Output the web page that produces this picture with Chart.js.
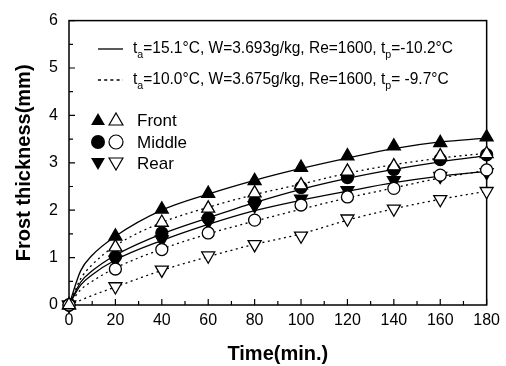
<!DOCTYPE html>
<html><head><meta charset="utf-8">
<script src="https://cdn.jsdelivr.net/npm/chart.js@4/dist/chart.umd.min.js"></script>
<style>html,body{margin:0;padding:0;background:#fff}#wrap{width:506px;height:366px;position:relative}</style>
</head><body><div id="wrap"><canvas id="c"></canvas></div>
<script>
// measured points (minutes, mm)
const times = [0, 20, 40, 60, 80, 100, 120, 140, 160, 180];
const frontCase1  = [0, 1.45, 2.02, 2.35, 2.62, 2.90, 3.14, 3.35, 3.42, 3.54];
const frontCase2  = [0, 1.22, 1.74, 2.04, 2.36, 2.53, 2.82, 2.93, 3.14, 3.19];
const middleCase1 = [0, 1.02, 1.52, 1.83, 2.18, 2.48, 2.69, 2.86, 3.07, 3.17];
const middleCase2 = [0, 0.76, 1.17, 1.52, 1.79, 2.11, 2.28, 2.46, 2.74, 2.85];
const rearCase1   = [0, 0.95, 1.38, 1.76, 2.10, 2.24, 2.42, 2.63, 2.72, 2.80];
const rearCase2   = [0, 0.39, 0.74, 1.04, 1.28, 1.46, 1.82, 2.03, 2.23, 2.40];
// fitted curves
const fitTimes    = [0, 5, 10, 20, 40, 60, 80, 100, 120, 140, 160, 180];
const fitFront1   = [0, 0.72, 1.05, 1.45, 2.00, 2.34, 2.63, 2.88, 3.10, 3.30, 3.44, 3.52];
const fitFront2   = [0, 0.55, 0.85, 1.25, 1.74, 2.06, 2.33, 2.55, 2.78, 2.96, 3.10, 3.20];
const fitMiddle1  = [0, 0.48, 0.72, 1.05, 1.50, 1.84, 2.16, 2.44, 2.67, 2.86, 3.02, 3.15];
const fitMiddle2  = [0, 0.32, 0.50, 0.78, 1.18, 1.50, 1.77, 2.02, 2.26, 2.47, 2.68, 2.84];
const fitRear1    = [0, 0.42, 0.64, 0.95, 1.36, 1.70, 1.99, 2.21, 2.40, 2.58, 2.72, 2.82];
const fitRear2    = [0, 0.10, 0.20, 0.38, 0.73, 1.02, 1.28, 1.50, 1.79, 2.03, 2.23, 2.40];
// axis / labels
const xTitle = 'Time(min.)';
const yTitle = 'Frost thickness(mm)';
const legendCase1 = [['t',0],['a',1],['=15.1\u00B0C, W=3.693g/kg, Re=1600, t',0],['p',1],['=-10.2\u00B0C',0]];
const legendCase2 = [['t',0],['a',1],['=10.0\u00B0C, W=3.675g/kg, Re=1600, t',0],['p',1],['= -9.7\u00B0C',0]];
const legendLocations = ['Front', 'Middle', 'Rear'];

const pts = (xs, ys) => xs.map((x, i) => ({x, y: ys[i]}));
const FONT = "'Liberation Sans', Arial, sans-serif";

function marker(label, ys, style, rot, filled) {
  return {label, data: pts(times, ys), showLine: false, clip: false,
    pointStyle: style, pointRotation: rot,
    pointRadius: style === 'circle' ? 6 : 7.5, pointHoverRadius: style === 'circle' ? 6 : 7.5,
    pointBackgroundColor: filled ? '#000' : '#fff', pointBorderColor: '#000', pointBorderWidth: 1.3};
}
function curve(label, ys, dotted) {
  return {label, data: pts(fitTimes, ys), showLine: true, clip: false, pointRadius: 0,
    borderColor: '#000', borderWidth: 1.3, borderDash: dotted ? [2, 3.5] : [],
    cubicInterpolationMode: 'monotone', fill: false};
}

function tri(ctx, x, y, r, down) {
  const s = down ? -1 : 1;
  ctx.beginPath();
  ctx.moveTo(x, y - s * r);
  ctx.lineTo(x + r * 0.866, y + s * r * 0.5);
  ctx.lineTo(x - r * 0.866, y + s * r * 0.5);
  ctx.closePath();
}

const framePlugin = {
  id: 'frame',
  beforeDatasetsDraw(chart) {
    const {ctx, chartArea: a, scales: {x, y}} = chart;
    ctx.save();
    ctx.strokeStyle = '#000';
    ctx.lineWidth = 1.5;
    ctx.strokeRect(a.left, a.top, a.right - a.left, a.bottom - a.top);
    ctx.lineWidth = 1.2;
    ctx.beginPath();
    for (let v = x.min; v <= x.max; v += 10) {
      const px = x.getPixelForValue(v);
      const len = v % 20 === 0 ? 6 : 4;
      ctx.moveTo(px, a.bottom); ctx.lineTo(px, a.bottom - len);
    }
    for (let v = y.min; v <= y.max; v += 0.5) {
      const py = y.getPixelForValue(v);
      const len = v % 1 === 0 ? 6 : 4;
      ctx.moveTo(a.left, py); ctx.lineTo(a.left + len, py);
    }
    ctx.stroke();
    ctx.restore();
  },
  afterDraw(chart) {
    const ctx = chart.ctx;
    ctx.save();
    ctx.fillStyle = '#000'; ctx.strokeStyle = '#000';
    // line samples
    ctx.lineWidth = 1.3;
    ctx.beginPath(); ctx.moveTo(98, 49); ctx.lineTo(123, 49); ctx.stroke();
    ctx.setLineDash([3, 3.2]);
    ctx.beginPath(); ctx.moveTo(98, 80); ctx.lineTo(123, 80); ctx.stroke();
    ctx.setLineDash([]);
    // condition texts
    const big = 16, small = 11;
    const widthOf = parts => parts.reduce((w, [t, sub]) => {
      ctx.font = (sub ? small : big) + 'px ' + FONT; return w + ctx.measureText(t).width; }, 0);
    const sx = 320 / widthOf(legendCase1);
    const drawParts = (parts, x0, yy) => {
      ctx.save(); ctx.translate(x0, yy); ctx.scale(sx, 1);
      let cx = 0;
      ctx.textBaseline = 'middle'; ctx.textAlign = 'left';
      for (const [t, sub] of parts) {
        ctx.font = (sub ? small : big) + 'px ' + FONT;
        ctx.fillText(t, cx, sub ? 6 : 0);
        cx += ctx.measureText(t).width;
      }
      ctx.restore();
    };
    drawParts(legendCase1, 133, 49);
    drawParts(legendCase2, 133, 80);
    // marker legend
    const rows = [120, 142, 163];
    ctx.lineWidth = 1.2;
    tri(ctx, 98, rows[0] + 1, 8, false); ctx.fill();
    tri(ctx, 116, rows[0] + 1, 8, false); ctx.fillStyle = '#fff'; ctx.fill(); ctx.stroke(); ctx.fillStyle = '#000';
    ctx.beginPath(); ctx.arc(98, rows[1], 7, 0, Math.PI * 2); ctx.fill();
    ctx.beginPath(); ctx.arc(116, rows[1], 7, 0, Math.PI * 2); ctx.stroke();
    tri(ctx, 98, rows[2] - 1, 8, true); ctx.fill();
    tri(ctx, 116, rows[2] - 1, 8, true); ctx.stroke();
    ctx.font = '17px ' + FONT; ctx.textBaseline = 'middle';
    legendLocations.forEach((t, i) => ctx.fillText(t, 137, rows[i] + 1));
    ctx.restore();
  }
};

new Chart(document.getElementById('c'), {
  type: 'scatter',
  data: {
    datasets: [
      marker('Front case2', frontCase2, 'triangle', 0, false),
      marker('Middle case2', middleCase2, 'circle', 0, false),
      marker('Rear case2', rearCase2, 'triangle', 180, false),
      marker('Front case1', frontCase1, 'triangle', 0, true),
      marker('Middle case1', middleCase1, 'circle', 0, true),
      marker('Rear case1', rearCase1, 'triangle', 180, true),
      curve('fit front1', fitFront1, false),
      curve('fit middle1', fitMiddle1, false),
      curve('fit rear1', fitRear1, false),
      curve('fit front2', fitFront2, true),
      curve('fit middle2', fitMiddle2, true),
      curve('fit rear2', fitRear2, true)
    ]
  },
  options: {
    responsive: true, maintainAspectRatio: false, animation: false,
    layout: {padding: {top: 15, right: 15, left: 0, bottom: 0}},
    plugins: {legend: {display: false}, tooltip: {enabled: false}},
    scales: {
      x: {
        type: 'linear', min: 0, max: 180,
        afterFit(s) { s.height = 61; },
        grid: {display: false, drawTicks: false}, border: {display: false},
        ticks: {stepSize: 20, autoSkip: false, maxRotation: 0, padding: 6, color: '#000',
          font: {family: FONT, size: 16}},
        title: {display: true, text: xTitle, color: '#000', padding: {top: 0, bottom: 0},
          font: {family: FONT, size: 20, weight: 'bold'}}
      },
      y: {
        type: 'linear', min: 0, max: 6,
        afterFit(s) { s.width = 69; },
        grid: {display: false, drawTicks: false}, border: {display: false},
        ticks: {stepSize: 1, autoSkip: false, padding: 11, color: '#000',
          font: {family: FONT, size: 16}},
        title: {display: true, text: yTitle, color: '#000', padding: {top: 12, bottom: 0},
          font: {family: FONT, size: 20, weight: 'bold'}}
      }
    }
  },
  plugins: [framePlugin]
});
</script></body></html>
